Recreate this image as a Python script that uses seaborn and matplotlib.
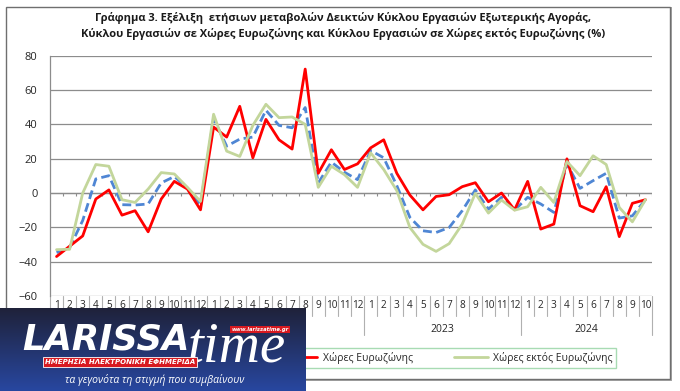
import numpy as np
import pandas as pd
import matplotlib
matplotlib.use("Agg")
import matplotlib.pyplot as plt
from matplotlib.lines import Line2D
from matplotlib.patches import Rectangle
import seaborn as sns

# ---------------- data ----------------
months = [1, 2, 3, 4, 5, 6, 7, 8, 9, 10, 11, 12] * 3 + [1, 2, 3, 4, 5, 6, 7, 8, 9, 10]
years = ["2021", "2022", "2023", "2024"]
year_lengths = [12, 12, 12, 10]

total = [-34.7, -31.8, -16, 8.2, 10.1, -6.8, -7, -6.4, 5.9, 9.6, 2.9, -6.8,
         43.3, 27.3, 31.4, 32.6, 48.2, 39.4, 38, 49.8, 5.9, 18, 12.1, 7.8,
         24.8, 20.5, 4.3, -14.2, -22, -23, -20.1, -10.3, 1.8, -9.4, -2.5, -10,
         -2.5, -6.4, -11.3, 17, 2.7, 7.2, 11.5, -14.6, -13.3, -3.9]
euro = [-37, -31, -25, -3.5, 1.8, -12.9, -10.3, -22.6, -3.5, 6.8, 2.3, -9.8,
        38.4, 32.6, 50.5, 20.5, 42.9, 31, 25.6, 72.2, 11.5, 25.2, 13.7, 17,
        26.3, 31, 11.5, -1.2, -9.8, -2, -1, 3.7, 6, -5.1, 0, -9.8,
        6.8, -21, -18.1, 19.9, -7.4, -10.9, 3.7, -25.4, -6, -3.9]
non_euro = [-33, -32.8, 0, 16.6, 15.6, -3.9, -5.5, 2.3, 11.9, 11.1, 3.3, -4.9,
            45.9, 24.4, 21.3, 39.4, 51.7, 43.9, 44.3, 40, 3.3, 15.6, 10.7, 3.3,
            23.4, 13.7, 1.4, -20.1, -29.9, -34, -29.5, -18.1, -0.2, -11.7, -4.1, -10,
            -8, 3.3, -5.5, 18.3, 10.1, 21.7, 16.6, -8.4, -16.8, -3.9]

series_names = ["Εξωτερική Αγορά", "Χώρες Ευρωζώνης", "Χώρες εκτός Ευρωζώνης"]
title = ("Γράφημα 3. Εξέλιξη  ετήσιων μεταβολών Δεικτών Κύκλου Εργασιών Εξωτερικής Αγοράς,\n"
         "Κύκλου Εργασιών σε Χώρες Ευρωζώνης και Κύκλου Εργασιών σε Χώρες εκτός Ευρωζώνης (%)")

# ---------------- setup ----------------
sns.set_theme(style="white")
plt.rcParams["font.family"] = ["Open Sans", "DejaVu Sans"]

W, H = 680, 391
fig = plt.figure(figsize=(W / 100, H / 100), dpi=100)
fig.patch.set_facecolor("white")

def fx(px):
    return px / W

def fy(py):
    return 1 - py / H

# outer frame with shadow
fig.patches.append(Rectangle((fx(8), fy(381)), fx(664), 374 / H, transform=fig.transFigure,
                             facecolor="#a6a6a6", edgecolor="none", zorder=-2))
fig.patches.append(Rectangle((fx(6), fy(379)), fx(664), 372 / H, transform=fig.transFigure,
                             facecolor="white", edgecolor="#6f6f6f", lw=1.0, zorder=-1))

ax_left, ax_right, ax_top, ax_bot = 50, 652, 55.7, 296
ax = fig.add_axes([fx(ax_left), fy(ax_bot), fx(ax_right - ax_left), (ax_bot - ax_top) / H])
ax.set_zorder(2)
ax.set_facecolor("none")

n = len(months)
idx = np.arange(n)
df = pd.DataFrame({
    "idx": np.tile(idx, 3),
    "value": total + euro + non_euro,
    "series": np.repeat(series_names, n),
})

palette = {series_names[0]: "#4f86d4", series_names[1]: "#ff0000", series_names[2]: "#c3d69b"}
dashes = {series_names[0]: (3.2, 1.6), series_names[1]: "", series_names[2]: ""}
sns.lineplot(data=df, x="idx", y="value", hue="series", style="series",
             palette=palette, dashes=dashes, linewidth=2.0, legend=False, ax=ax,
             hue_order=series_names, style_order=series_names, zorder=3)

ax.set_xlim(-0.5, n - 0.5)
ax.set_ylim(-60, 80)
ax.set_yticks(np.arange(-60, 81, 20))
ax.yaxis.grid(True, color="#8c8c8c", lw=0.9)
ax.xaxis.grid(False)
for s in ["top", "right", "bottom"]:
    ax.spines[s].set_visible(False)
ax.spines["left"].set_color("#8c8c8c")
ax.spines["left"].set_linewidth(0.9)
ax.tick_params(axis="y", length=0, pad=9, labelsize=8, labelcolor="#262626")
ax.set_xticks(idx)
ax.set_xticklabels([str(m) for m in months], fontsize=7.2, color="#262626")
ax.tick_params(axis="x", length=0, pad=3)
ax.set_xlabel("")
ax.set_ylabel("")

# category axis (zero line ticks and label cells)
ax.axhline(0, color="#8c8c8c", lw=0.9, zorder=1)
bounds = np.arange(n + 1) - 0.5
ax.vlines(bounds[1:], -1.6, 0, color="#8c8c8c", lw=0.8, zorder=1)
xt = ax.get_xaxis_transform()
cell_h = 20 / (ax_bot - ax_top)
year_h = 39 / (ax_bot - ax_top)
year_edges = np.concatenate([[0], np.cumsum(year_lengths)]) - 0.5
for b in bounds:
    depth = year_h if np.any(np.isclose(b, year_edges)) else cell_h
    ax.plot([b, b], [0, -depth], transform=xt, color="#b0b0b0", lw=0.8, clip_on=False)
for y, start, ln in zip(years, year_edges[:-1], year_lengths):
    ax.text(start + ln / 2, -34 / (ax_bot - ax_top), y, transform=xt, ha="center", va="center",
            fontsize=7.5, color="#262626")

# title
fig.text(0.505, fy(26), title, ha="center", va="center", fontsize=8, fontweight="bold",
         color="#1a1a1a", linespacing=1.45)

# legend
handles = [Line2D([], [], color=palette[s], lw=2, ls="--" if i == 0 else "-")
           for i, s in enumerate(series_names)]
leg = fig.legend(handles, series_names, ncol=3, loc="center", bbox_to_anchor=(fx(366), fy(358)),
                 fontsize=7.5, frameon=True, fancybox=False, handlelength=3.2,
                 handletextpad=0.5, columnspacing=4.0, borderpad=0.35)
leg.get_frame().set_edgecolor("#92d3a0")
leg.get_frame().set_linewidth(1.0)
leg.set_zorder(3)

# ---------------- overlay logo ----------------
lx0, lx1, ly0, ly1 = 0, 306, 308, 391
lax = fig.add_axes([fx(lx0), fy(ly1), fx(lx1 - lx0), (ly1 - ly0) / H], zorder=10)
grad = np.linspace(0, 1, 100)[:, None]
top_c = np.array([0x1f, 0x22, 0x3a]) / 255
bot_c = np.array([0x28, 0x47, 0xa0]) / 255
img = top_c[None, None, :] * (1 - grad[..., None]) + bot_c[None, None, :] * grad[..., None]
img = np.repeat(img, 2, axis=1)
lax.imshow(img, aspect="auto", extent=[0, 1, 0, 1], origin="upper")
lax.set_xlim(0, 1)
lax.set_ylim(0, 1)
lax.axis("off")

def lxy(px, py):
    return (px - lx0) / (lx1 - lx0), (ly1 - py) / (ly1 - ly0)

lax.text(*lxy(22, 339), "LARISSA", color="white", fontsize=25.5, fontweight="bold", style="italic",
         family=["DejaVu Sans"], ha="left", va="center")
lax.text(*lxy(188, 348), "time", color="white", fontsize=41, style="italic",
         family=["Liberation Serif"], ha="left", va="center")
lax.text(*lxy(260, 329.5), "www.larissatime.gr", color="white", fontsize=3.8, fontweight="bold",
         style="italic", family=["DejaVu Sans"], ha="center", va="center", zorder=5,
         bbox=dict(boxstyle="square,pad=0.25", fc="#d71920", ec="none"))
lax.text(*lxy(120, 362), "ΗΜΕΡΗΣΙΑ ΗΛΕΚΤΡΟΝΙΚΗ ΕΦΗΜΕΡΙΔΑ", color="white", fontsize=5, fontweight="bold",
         style="italic", family=["DejaVu Sans"], ha="center", va="center", zorder=5,
         bbox=dict(boxstyle="square,pad=0.3", fc="#d71920", ec="white", lw=0.6))
lax.text(*lxy(155, 380), "τα γεγονότα τη στιγμή που συμβαίνουν", color="white", fontsize=7.5,
         style="italic", family=["Open Sans", "DejaVu Sans"], ha="center", va="center")

fig.savefig("out.png", dpi=100)
